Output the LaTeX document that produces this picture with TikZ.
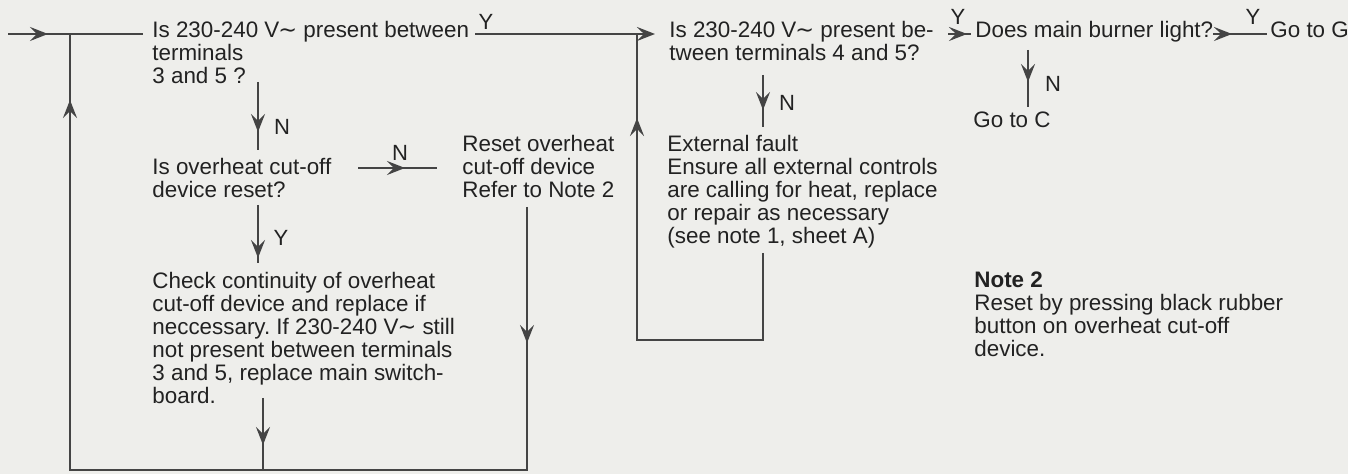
\documentclass[tikz,border=0pt]{standalone}
\usepackage{fontspec}
\setmainfont{Liberation Sans}
\newfontfamily\symfont{DejaVu Sans}
\usetikzlibrary{arrows.meta,decorations.markings}
\definecolor{paper}{RGB}{238,238,235}
\definecolor{ink}{RGB}{34,34,34}
\definecolor{wire}{RGB}{68,68,68}
\frenchspacing
\newcommand{\stack}[1]{\begin{tabular}[t]{@{}l@{}}#1\end{tabular}}
\newcommand{\ac}{V{\symfont\kern-0.5pt∼}}
\tikzset{
  txt/.style={anchor=base west, inner sep=0pt, text=ink, font=\fontsize{11.2}{11}\selectfont},
  lbl/.style={inner sep=0pt, text=ink, font=\fontsize{11}{11}\selectfont},
  wireline/.style={draw=wire, line width=1pt},
  tipat/.style={postaction={decorate, decoration={markings,
      mark=at position #1 with {\arrow{Stealth[length=9pt,width=7pt,inset=3.5pt]}}}}},
}

\begin{document}
\begin{tikzpicture}[x=0.5pt, y=-0.5pt]
    \fill[paper] (0,0) rectangle (1348,474);
    \useasboundingbox (0,0) rectangle (1348,474);

    % questions, actions and notes
    \node[txt] (q1) at (152,38) {\stack{Is 230-240 \ac{} present between\\terminals\\3 and 5 ?}};
    \node[txt] (q2) at (669,38) {\stack{Is 230-240 \ac{} present be-\\tween terminals 4 and 5?}};
    \node[txt] (q3) at (975,38) {Does main burner light?};
    \node[txt] (goG) at (1270,38) {Go to G};
    \node[txt] (goC) at (973,128) {Go to C};
    \node[txt] (q4) at (152,175) {\stack{Is overheat cut-off\\device reset?}};
    \node[txt] (reset) at (462,152) {\stack{Reset overheat\\cut-off device\\Refer to Note 2}};
    \node[txt] (ext) at (667,152) {\stack{External fault\\Ensure all external controls\\are calling for heat, replace\\or repair as necessary\\(see note 1, sheet A)}};
    \node[txt] (check) at (152,289) {\stack{Check continuity of overheat\\cut-off device and replace if\\neccessary. If 230-240 \ac{} still\\not present between terminals\\3 and 5, replace main switch-\\board.}};
    \node[txt] (note2) at (974,288) {\stack{\textbf{Note 2}\\Reset by pressing black rubber\\button on overheat cut-off\\device.}};

    % end points of the connectors
    \coordinate (in) at (8,34);
    \coordinate (q1in) at (143,34);
    \coordinate (jL) at (70,34);
    \coordinate (q1yes) at (475,34);
    \coordinate (q2in) at (655,34);
    \coordinate (jR) at (637,34);
    \coordinate (q1no) at (258,82);
    \coordinate (q4in) at (258,150);
    \coordinate (q4no) at (358,168);
    \coordinate (resetin) at (437,168);
    \coordinate (q4yes) at (258,205);
    \coordinate (checkin) at (258,263);
    \coordinate (checkout) at (263,398);
    \coordinate (resetout) at (527,207);
    \coordinate (bm) at (263,470);
    \coordinate (bl) at (70,470);
    \coordinate (br) at (527,470);
    \coordinate (q2no) at (763,75);
    \coordinate (extin) at (763,127);
    \coordinate (extout) at (763,253);
    \coordinate (ebr) at (763,340);
    \coordinate (ebl) at (637,340);
    \coordinate (q2yes) at (948,34);
    \coordinate (q3in) at (971,34);
    \coordinate (q3yes) at (1213,34);
    \coordinate (goGin) at (1267,34);
    \coordinate (q3no) at (1028,50);
    \coordinate (goCin) at (1028,107);

    % connectors
    \draw[wireline, tipat=20pt] (in) -- (q1in);
    \draw[wireline, tipat=23.5pt, tipat=317.5pt] (checkout) -- (bm) -- (bl) -- (jL);
    \draw[wireline, tipat=68pt] (resetout) -- (br) -- (bm);
    \draw[wireline, -{Stealth[length=9pt,width=7pt,inset=3.5pt]}] (q1yes) -- (q2in);
    \draw[wireline, tipat=217.5pt] (extout) -- (ebr) -- (ebl) -- (jR);
    \draw[wireline, tipat=25pt] (q1no) -- (q4in);
    \draw[wireline, tipat=23.5pt] (q4no) -- (resetin);
    \draw[wireline, tipat=26.5pt] (q4yes) -- (checkin);
    \draw[wireline, tipat=17.5pt] (q2no) -- (extin);
    \draw[wireline, tipat=9.5pt] (q2yes) -- (q3in);
    \draw[wireline, tipat=9.5pt] (q3yes) -- (goGin);
    \draw[wireline, tipat=16pt] (q3no) -- (goCin);

    % answer labels
    \node[lbl] (y1) at (486,22) {Y};
    \node[lbl] (n1) at (282,127) {N};
    \node[lbl] (n4) at (400,153) {N};
    \node[lbl] (y4) at (281,238) {Y};
    \node[lbl] (n2) at (787,103) {N};
    \node[lbl] (y2) at (958,17) {Y};
    \node[lbl] (y3) at (1253,17) {Y};
    \node[lbl] (n3) at (1053,84) {N};
\end{tikzpicture}
\end{document}
